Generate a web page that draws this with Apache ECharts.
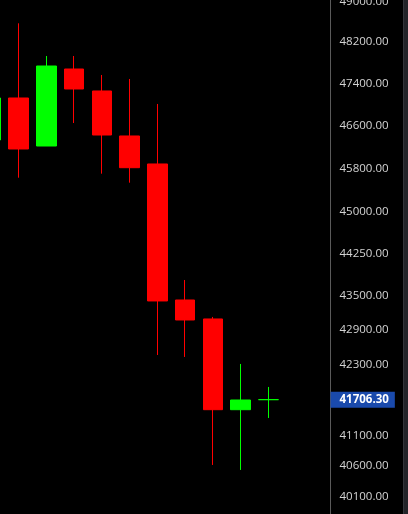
<!DOCTYPE html>
<html>
<head>
<meta charset="utf-8">
<script src="https://cdn.jsdelivr.net/npm/echarts@6/dist/echarts.min.js"></script>
<style>
  html, body { margin: 0; padding: 0; background: #000; }
  #chart { width: 408px; height: 514px; }
</style>
</head>
<body>
<div id="chart"></div>
<script>
// Candle slots (the last two are empty future slots)
const categories = ['1','2','3','4','5','6','7','8','9','10','11','12','13'];
const opens  = [46329, 47123, 46216, 47679, 47257, 46404, 45881, 43423, 43091, 41537, 41706.3];
const closes = [47123, 46160, 47737, 47295, 46422, 45812, 43406, 43073, 41537, 41700, 41706.3];
const lows   = [46200, 45627, 46216, 46648, 45701, 45535, 42467, 42433, 40618, 40536, 41398];
const highs  = [47300, 48569, 47931, 47931, 47564, 47487, 47009, 43776, 43126, 42313, 41921];
const tickValues = [49000, 48200, 47400, 46600, 45800, 45000, 44250, 43500, 42900, 42300, 41100, 40600, 40100];
const lastPrice = 41706.30;

const candleData = opens.map((o, i) => [o, closes[i], lows[i], highs[i]]);

const chart = echarts.init(document.getElementById('chart'), null, { renderer: 'canvas' });
chart.setOption({
  backgroundColor: '#000000',
  animation: false,
  grid: { left: -23.17, right: 70.07, top: 0, bottom: 0, outerBoundsMode: 'none', containLabel: false },
  xAxis: {
    type: 'category',
    data: categories,
    boundaryGap: true,
    show: false
  },
  yAxis: {
    type: 'log',
    logBase: 10,
    position: 'right',
    offset: -7.4,
    min: 39819.6,
    max: 49029.8,
    splitLine: { show: false },
    axisLine: { show: true, lineStyle: { color: '#5a5a5a', width: 1 } },
    axisTick: { show: false },
    axisLabel: {
      customValues: tickValues,
      color: '#d4d4d4',
      fontFamily: 'Open Sans',
      fontSize: 11.5,
      margin: 9,
      formatter: v => Number(v).toFixed(2)
    },
    axisPointer: {
      show: true,
      status: 'show',
      value: lastPrice,
      type: 'line',
      triggerTooltip: false,
      lineStyle: { opacity: 0 },
      label: {
        show: true,
        margin: 0,
        backgroundColor: '#1a4aac',
        color: '#ffffff',
        fontFamily: 'Open Sans',
        fontWeight: 'bold',
        fontSize: 11.5,
        padding: [2, 6, 2, 9],
        borderRadius: 0,
        shadowBlur: 0,
        formatter: p => Number(p.value).toFixed(2)
      }
    }
  },
  axisPointer: { triggerOn: 'none' },
  series: [{
    type: 'candlestick',
    data: candleData,
    barWidth: 20,
    itemStyle: {
      color: '#00ff00',
      color0: '#ff0000',
      borderColor: '#00ff00',
      borderColor0: '#ff0000',
      borderWidth: 1
    }
  }],
  graphic: [
    { type: 'rect', shape: { x: 403, y: 0, width: 5, height: 514 }, style: { fill: '#232429' }, z: 100 },
    { type: 'line', shape: { x1: 403.5, y1: 0, x2: 403.5, y2: 514 }, style: { stroke: '#34353a', lineWidth: 1 }, z: 101 }
  ]
});
</script>
</body>
</html>
